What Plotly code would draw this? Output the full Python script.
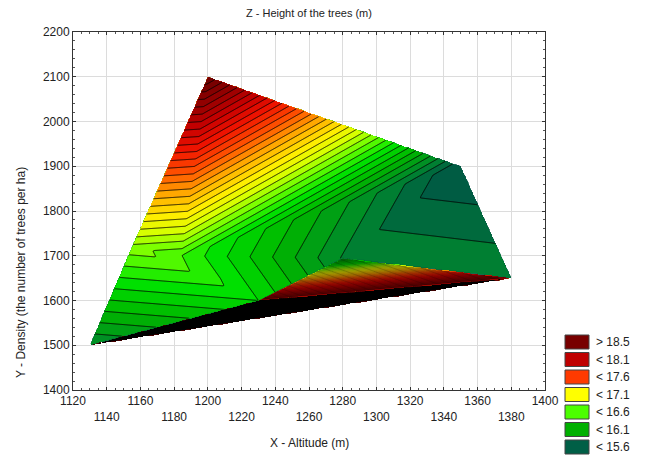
import numpy as np
import plotly.graph_objects as go

# ---------------- data ----------------
# measurement points (X altitude, Y density, Z height)
node_x = [1130, 1155, 1200, 1350, 1380, 1280, 1184, 1230]
node_y = [1500, 1720, 2100, 1900, 1650, 1695, 1700, 1600]
node_z = [15.80, 16.67, 18.90, 15.50, 15.79, 15.79, 16.505, 16.30]
# triangulation of the points (indices into the node arrays)
triangles = [[0, 1, 7], [1, 6, 7], [1, 2, 6], [2, 6, 3], [6, 5, 3],
             [5, 3, 4], [6, 7, 5], [7, 5, 4], [0, 7, 4]]
# overshoot of the fitted surface in the two lower triangles (corner values)
artifact_tri = [7, 8]
artifact_z = [[18.6, 15.79, 18.6], [40.0, 18.6, 18.6]]

legend_labels = ["> 18.5", "< 18.1", "< 17.6", "< 17.1", "< 16.6", "< 16.1", "< 15.6"]
legend_colors = ["#780000", "#bf0000", "#ff3a00", "#ffff00", "#4cff00", "#00b000", "#005f46"]
x_ticks = list(range(1120, 1401, 20))
y_ticks = list(range(1400, 2201, 100))

# ---------------- interpolation on a grid ----------------
gx = np.linspace(min(node_x) - 2, max(node_x) + 2, 470)
gy = np.linspace(min(node_y) - 2, max(node_y) + 2, 320)
X, Y = np.meshgrid(gx, gy)
n_groups = 1 + len(artifact_tri)          # group 0: measured surface, then each overshoot triangle
Zg = [np.full(X.shape, np.nan) for _ in range(n_groups)]
filled = np.zeros(X.shape, dtype=bool)
for k, tri in enumerate(triangles):
    (x1, x2, x3) = [node_x[i] for i in tri]
    (y1, y2, y3) = [node_y[i] for i in tri]
    g = artifact_tri.index(k) + 1 if k in artifact_tri else 0
    zv = artifact_z[g - 1] if g else [node_z[i] for i in tri]
    det = (y2 - y3) * (x1 - x3) + (x3 - x2) * (y1 - y3)
    w1 = ((y2 - y3) * (X - x3) + (x3 - x2) * (Y - y3)) / det
    w2 = ((y3 - y1) * (X - x3) + (x1 - x3) * (Y - y3)) / det
    w3 = 1 - w1 - w2
    eps = -1e-9
    inside = (w1 >= eps) & (w2 >= eps) & (w3 >= eps) & ~filled
    vals = w1 * zv[0] + w2 * zv[1] + w3 * zv[2]
    Zg[g][inside] = vals[inside]
    filled |= inside

zmin, zmax = 15.5, 18.9
def n(v):
    return (v - zmin) / (zmax - zmin)
colorscale = [
    [n(15.5), "rgb(0,85,70)"],
    [n(15.65), "rgb(0,105,62)"],
    [n(15.8), "rgb(0,135,45)"],
    [n(16.1), "rgb(0,180,0)"],
    [n(16.4), "rgb(0,228,0)"],
    [n(16.65), "rgb(110,255,0)"],
    [n(16.9), "rgb(220,255,0)"],
    [n(17.1), "rgb(255,238,0)"],
    [n(17.4), "rgb(255,170,0)"],
    [n(17.7), "rgb(255,80,0)"],
    [n(18.0), "rgb(240,20,0)"],
    [n(18.3), "rgb(200,0,0)"],
    [n(18.6), "rgb(150,0,0)"],
    [n(18.9), "rgb(115,0,0)"],
]

fig = go.Figure()
line_widths = [0.9, 0.6, 1.0]
for g in [1, 2, 0]:
    if g:
        top = max(node_y[i] for i in triangles[artifact_tri[g - 1]]) + 4
        rows = gy <= top
    else:
        rows = np.ones(gy.shape, dtype=bool)
    zz = Zg[g][rows]
    fig.add_trace(go.Contour(
        x=gx, y=gy[rows], z=zz,
        connectgaps=False,
        colorscale=colorscale, zauto=False, zmin=zmin, zmax=zmax,
        showscale=False,
        contours=dict(start=15.0, end=float(np.nanmax(zz)) + 0.05, size=0.1, coloring="fill"),
        line=dict(color="black", width=line_widths[g], smoothing=0),
        hoverinfo="skip",
    ))

# ---------------- layout ----------------
# the page has an 8 px body margin, so the figure is drawn 8 px smaller
OFF = 8
W, H = 648 - OFF, 457 - OFF
L, R, T, B = 73 - OFF, 545 - OFF, 32 - OFF, 390 - OFF
def px_x(p):  # reference pixel -> paper
    return (p - OFF - L) / (R - L)
def px_y(p):
    return (B - (p - OFF)) / (B - T)

font = "Arial, Liberation Sans, sans-serif"
tick_text = [str(v) if i % 2 == 0 else "<br>" + str(v) for i, v in enumerate(x_ticks)]

fig.update_layout(
    width=W, height=H,
    margin=dict(l=L, r=W - R, t=T, b=H - B),
    paper_bgcolor="white", plot_bgcolor="white",
    font=dict(family=font, size=12, color="#222"),
    showlegend=False,
    xaxis=dict(range=[1120, 1400], tickmode="array", tickvals=x_ticks, ticktext=tick_text,
               showgrid=True, gridcolor="#dcdcdc", gridwidth=1, zeroline=False,
               showline=True, linecolor="#333", linewidth=1, mirror="allticks",
               ticks="inside", ticklen=3, tickcolor="#333",
               minor=dict(ticks="inside", ticklen=2, dtick=5, tick0=1120, tickcolor="#555", showgrid=False),
               tickfont=dict(size=12), automargin=False),
    yaxis=dict(range=[1400, 2200], tickmode="array", tickvals=y_ticks,
               showgrid=True, gridcolor="#dcdcdc", gridwidth=1, zeroline=False,
               showline=True, linecolor="#333", linewidth=1, mirror="allticks",
               ticks="inside", ticklen=3, tickcolor="#333",
               minor=dict(ticks="inside", ticklen=2, dtick=20, tick0=1400, tickcolor="#555", showgrid=False),
               tickfont=dict(size=12), automargin=False),
)

annotations = [
    dict(text="Z - Height of the trees (m)", x=px_x(309), y=px_y(13), xref="paper", yref="paper",
         showarrow=False, font=dict(size=11), xanchor="center", yanchor="middle"),
    dict(text="X - Altitude (m)", x=px_x(309), y=px_y(443), xref="paper", yref="paper",
         showarrow=False, font=dict(size=12), xanchor="center", yanchor="middle"),
    dict(text="Y - Density (the number of trees per ha)", x=px_x(21), y=px_y(273),
         xref="paper", yref="paper", showarrow=False, textangle=-90,
         font=dict(size=12), xanchor="center", yanchor="middle"),
]
shapes = []
for i, (lab, col) in enumerate(zip(legend_labels, legend_colors)):
    top = 335 + i * 17.5
    shapes.append(dict(type="rect", xref="paper", yref="paper",
                       x0=px_x(565), x1=px_x(589), y0=px_y(top), y1=px_y(top + 14),
                       fillcolor=col, line=dict(color="#444", width=1)))
    annotations.append(dict(text=lab, x=px_x(594), y=px_y(top + 7), xref="paper", yref="paper",
                            showarrow=False, xanchor="left", yanchor="middle",
                            font=dict(size=12)))
fig.update_layout(annotations=annotations, shapes=shapes)

fig.write_html("out.html")
